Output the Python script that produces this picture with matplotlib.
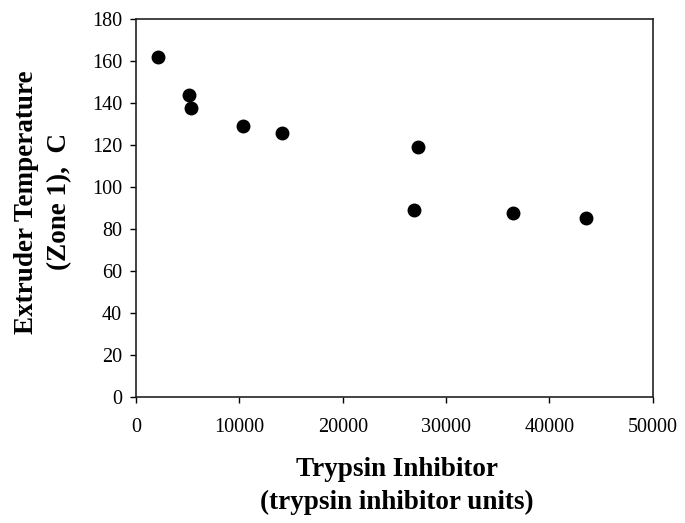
import matplotlib
matplotlib.use("Agg")
import matplotlib.pyplot as plt

# Trypsin inhibitor (TIU) vs. extruder zone 1 temperature (C)
trypsin_inhibitor = [2100, 5150, 5300, 10350, 14100, 27300, 26900, 36500, 43500]
extruder_temp = [162, 143.8, 137.7, 128.9, 125.8, 119.2, 89, 87.7, 85]

x_ticks = [0, 10000, 20000, 30000, 40000, 50000]
y_ticks = [0, 20, 40, 60, 80, 100, 120, 140, 160, 180]

plt.rcParams['font.family'] = ['Liberation Serif', 'DejaVu Serif']

fig = plt.figure(figsize=(6.85, 5.23), dpi=100)
ax = fig.add_axes([0.1985, 0.2415, 0.7545, 0.7222])

ax.plot(trypsin_inhibitor, extruder_temp, linestyle='none', marker='o',
        markersize=9, color='black', clip_on=False)

ax.set_xlim(0, 50000)
ax.set_ylim(0, 180)
ax.set_xticks(x_ticks)
ax.set_yticks(y_ticks)
ax.tick_params(direction='out', length=4, width=1, labelsize=14.5)
ax.tick_params(axis='x', pad=11)
ax.tick_params(axis='y', pad=6)

for s in ax.spines.values():
    s.set_linewidth(1.2)
    s.set_color('#222222')

# axis titles placed in figure coordinates
ax.set_xlabel("Trypsin Inhibitor\n(trypsin inhibitor units)", fontsize=19.5,
              fontweight='bold', linespacing=1.4, va='center')
ax.xaxis.set_label_coords(397 / 685, 1 - 486 / 523, transform=fig.transFigure)
ax.set_ylabel("Extruder Temperature\n(Zone 1),  C", fontsize=19.5,
              fontweight='bold', linespacing=1.45, va='center')
ax.yaxis.set_label_coords(43 / 685, 1 - 202 / 523, transform=fig.transFigure)

fig.savefig("out.png", dpi=100)
